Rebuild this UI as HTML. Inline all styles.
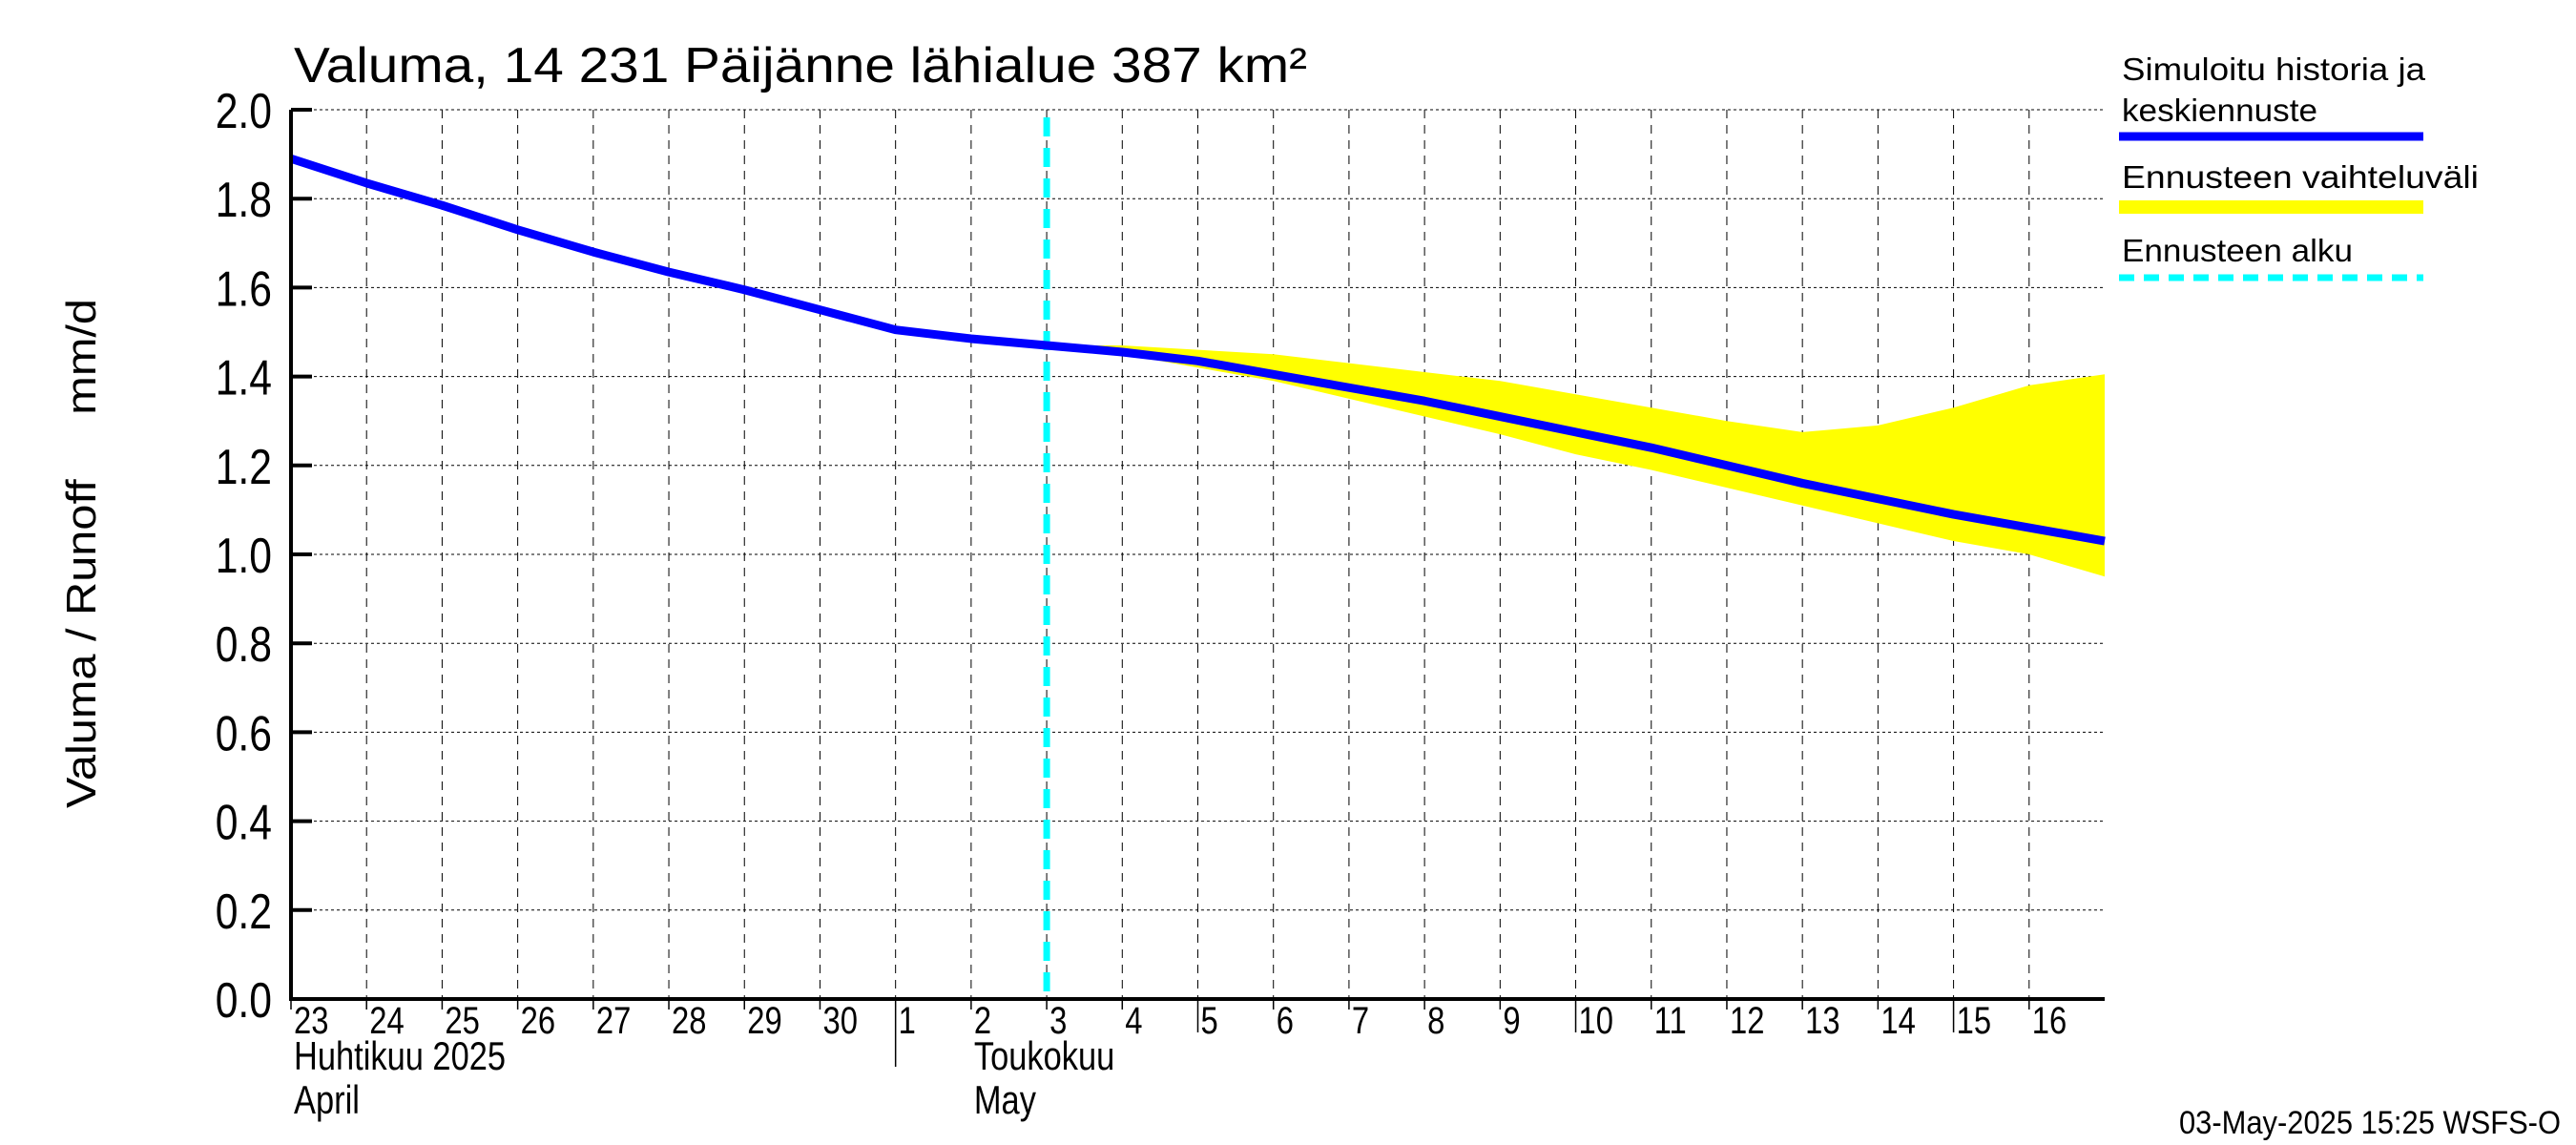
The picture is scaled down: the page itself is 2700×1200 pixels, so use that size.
<!DOCTYPE html>
<html><head><meta charset="utf-8"><style>
html,body{margin:0;padding:0;background:#fff;}
svg{display:block;font-family:"Liberation Sans",sans-serif;}
</style></head><body>
<svg id="chart" width="2700" height="1200" viewBox="0 0 2700 1200" xmlns="http://www.w3.org/2000/svg">
<rect width="2700" height="1200" fill="#fff"/>
<text x="308" y="86" font-size="52" textLength="1062" lengthAdjust="spacingAndGlyphs">Valuma, 14 231 Päijänne lähialue 387 km²</text>
<text transform="translate(100,580) rotate(-90)" font-size="44" text-anchor="middle" textLength="534" lengthAdjust="spacingAndGlyphs" xml:space="preserve">Valuma / Runoff     mm/d</text>
<g id="grid"></g><g id="band"></g><g id="lines"></g><g id="axes"></g>
<g font-size="33">
<text x="2224" y="84" textLength="318" lengthAdjust="spacingAndGlyphs">Simuloitu historia ja</text>
<text x="2224" y="127" textLength="205" lengthAdjust="spacingAndGlyphs">keskiennuste</text>
<line x1="2221" x2="2540" y1="143" y2="143" stroke="#0000ff" stroke-width="9"/>
<text x="2224" y="197" textLength="374" lengthAdjust="spacingAndGlyphs">Ennusteen vaihteluväli</text>
<line x1="2221" x2="2540" y1="217" y2="217" stroke="#ffff00" stroke-width="14"/>
<text x="2224" y="274" textLength="242" lengthAdjust="spacingAndGlyphs">Ennusteen alku</text>
<line x1="2221" x2="2540" y1="291" y2="291" stroke="#00ffff" stroke-width="7" stroke-dasharray="16,10"/>
</g>
<text x="2684" y="1188" font-size="34" text-anchor="end" textLength="400" lengthAdjust="spacingAndGlyphs">03-May-2025 15:25 WSFS-O</text>
</svg>
<script>
const dayLabels=["23","24","25","26","27","28","29","30","1","2","3","4","5","6","7","8","9","10","11","12","13","14","15","16"];
const seriesMean=[1.89,1.835,1.785,1.73,1.68,1.635,1.595,1.55,1.505,1.485,1.47,1.455,1.435,1.405,1.375,1.345,1.31,1.275,1.24,1.2,1.16,1.125,1.09,1.06,1.03];
const bandUpper=[1.47,1.47,1.46,1.45,1.43,1.41,1.39,1.36,1.33,1.3,1.275,1.29,1.33,1.38,1.405];
const bandLower=[1.47,1.45,1.42,1.39,1.35,1.31,1.27,1.225,1.19,1.15,1.11,1.07,1.03,1.0,0.95];
const bandStartDay=10;
const forecastStartDay=10;
const yTicks=[0,0.2,0.4,0.6,0.8,1.0,1.2,1.4,1.6,1.8,2.0];
const monthSplitDay=8;
const L=305,R=2206,T=115,B=1047,NDAYS=24,YMAX=2.0;
const xs=d=>L+(R-L)*d/NDAYS;
const ys=v=>B-(B-T)*v/YMAX;
const NS="http://www.w3.org/2000/svg";
function mk(tag,attrs,parent){const e=document.createElementNS(NS,tag);for(const k in attrs)e.setAttribute(k,attrs[k]);parent.appendChild(e);return e;}
const grid=document.getElementById('grid'),band=document.getElementById('band'),lines=document.getElementById('lines'),axes=document.getElementById('axes');
for(let d=1;d<NDAYS;d++){const l=mk('line',{x1:xs(d),x2:xs(d),y1:T,y2:B,stroke:'#000','stroke-width':1,'stroke-dasharray':'9,7'},grid);

}
yTicks.forEach(v=>{if(v>0){const l=mk('line',{x1:L,x2:R,y1:ys(v),y2:ys(v),stroke:'#000','stroke-width':1,'stroke-dasharray':'3,3'},grid);

}
const t=mk('line',{x1:L,x2:L+22,y1:ys(v),y2:ys(v),stroke:'#000','stroke-width':4},axes);


const lb=mk('text',{transform:`translate(285,${ys(v)+19}) scale(0.82,1)`,'font-size':52,'text-anchor':'end'},axes);lb.textContent=v.toFixed(1);

});
let pts=[];bandUpper.forEach((v,i)=>pts.push(xs(bandStartDay+i)+','+ys(v)));
for(let i=bandLower.length-1;i>=0;i--)pts.push(xs(bandStartDay+i)+','+ys(bandLower[i]));
const bp=mk('polygon',{points:pts.join(' '),fill:'#ffff00'},band);


const fl=mk('line',{x1:xs(forecastStartDay),x2:xs(forecastStartDay),y1:T+8,y2:B,stroke:'#00ffff','stroke-width':7,'stroke-dasharray':'20,12'},lines);


const ml=mk('polyline',{points:seriesMean.map((v,i)=>xs(i)+','+ys(v)).join(' '),fill:'none',stroke:'#0000ff','stroke-width':9,'stroke-linejoin':'round'},lines);


const ax=mk('path',{d:`M${L},${T} L${L},${B} L${R},${B}`,fill:'none',stroke:'#000','stroke-width':4},axes);


dayLabels.forEach((s,d)=>{const dayNum=d<monthSplitDay?0:d-monthSplitDay+1;const long=(d===monthSplitDay)||(d>monthSplitDay&&dayNum%5===0);
const tk=mk('line',{x1:xs(d),x2:xs(d),y1:B,y2:d===monthSplitDay?1118:(long?1082:1058),stroke:'#000','stroke-width':1.5},axes);


const t=mk('text',{transform:`translate(${xs(d)+3},1083) scale(0.82,1)`,'font-size':40},axes);t.textContent=s;

});
[["Huhtikuu  2025",0,1121],["April",0,1167],["Toukokuu",monthSplitDay+1,1121],["May",monthSplitDay+1,1167]].forEach(m=>{
const t=mk('text',{transform:`translate(${xs(m[1])+3},${m[2]}) scale(0.82,1)`,'font-size':42,'xml:space':'preserve'},axes);t.textContent=m[0];

});
</script>
</body></html>
